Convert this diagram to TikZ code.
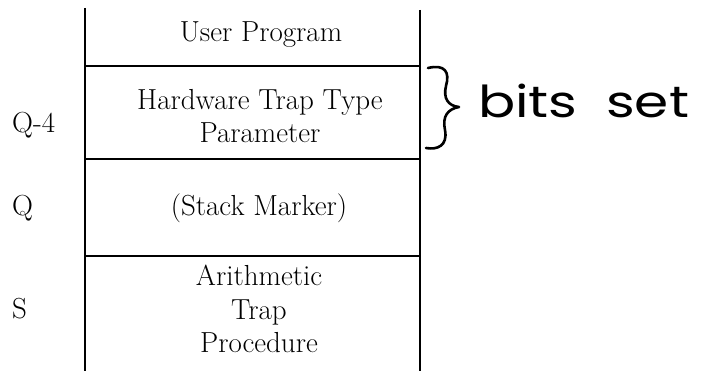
\documentclass[tikz,border=0pt]{standalone}
\usepackage{fontspec}
\newfontfamily\handfont{Poppins}
\begin{document}
\begin{tikzpicture}[x=1pt,y=-1pt,
  rule/.style={line width=1.8pt},
  cell/.style={font=\fontsize{29}{33.5}\selectfont, align=center, inner sep=0pt},
  addr/.style={font=\fontsize{29}{30}\selectfont, anchor=west, inner sep=0pt},
  hand/.style={font=\handfont\fontsize{44}{44}\selectfont, anchor=base west, inner sep=0pt, xscale=1.25},
  brace/.style={line width=2.6pt, line cap=round, line join=round}]
\useasboundingbox (0,0) rectangle (710,371);
% stack column
\coordinate (lt) at (85,8);   \coordinate (lb) at (85,371);
\coordinate (rt) at (420,10); \coordinate (rb) at (420,371);
\draw[rule] (lt) -- (lb);
\draw[rule] (rt) -- (rb);
\foreach \y/\n in {66/a,159/b,256/c}{
  \coordinate (\n l) at (85,\y);
  \coordinate (\n r) at (420,\y);
  \draw[rule] (\n l) -- (\n r);
}
% cell contents
\node[cell] (user) at (261,35) {User Program};
\node[cell] (hw) at (260,116) {Hardware Trap Type\\Parameter};
\node[cell] (mark) at (259,208) {(Stack Marker)};
\node[cell] (proc) at (259,309) {Arithmetic\\Trap\\Procedure};
% addresses
\node[addr] (q4) at (12,125) {Q-4};
\node[addr] (q) at (12,208) {Q};
\node[addr] (s) at (12,309) {S};
% handwritten note
\draw[brace] (428,68) .. controls (445,64) and (450,72) .. (446,86)
  .. controls (443,98) and (448,106) .. (459,107)
  .. controls (448,109) and (442,116) .. (445,130)
  .. controls (448,146) and (437,150) .. (426,148);
\node[hand] (bits) at (478,118) {bits};
\node[hand] (set) at (606,118) {set};
\end{tikzpicture}
\end{document}
